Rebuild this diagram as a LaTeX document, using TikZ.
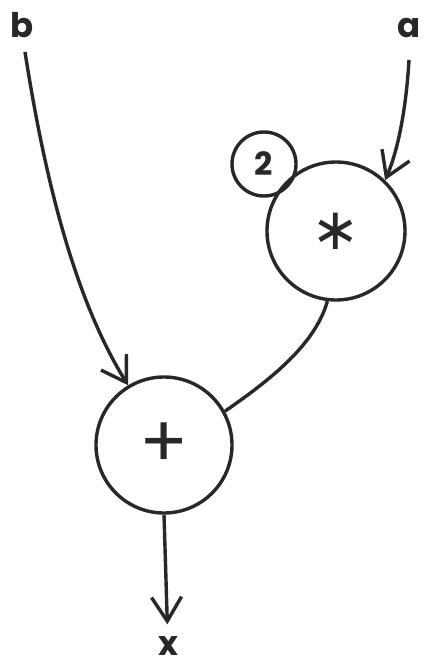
\documentclass[tikz,border=0pt]{standalone}
\usepackage{fontspec}
\setmainfont{Poppins}
\newfontfamily\symfont{DejaVu Sans}
\usetikzlibrary{arrows.meta}
\definecolor{ink}{RGB}{40,40,40}
\tikzset{
  op/.style={circle, draw=ink, line width=3.4pt, inner sep=0pt, text=ink},
  lab/.style={text=ink, inner sep=0pt, font=\fontsize{34}{34}\selectfont\bfseries},
  arr/.style={draw=ink, line width=3.4pt, -{Straight Barb[length=24pt,width=30pt,line width=3.4pt]}},
  wire/.style={draw=ink, line width=3.4pt}
}
\begin{document}
\begin{tikzpicture}[x=1pt,y=-1pt]
\useasboundingbox[fill=white] (0,0) rectangle (426,671);
% operator circles
\node[op, minimum size=136pt, font=\fontsize{72}{72}\selectfont] (plus) at (164,445) {+};
\node[op, minimum size=138pt, font=\symfont\fontsize{58}{58}\selectfont] (star) at (336,231) {∗};
\node[op, minimum size=64pt, font=\fontsize{32}{32}\selectfont\bfseries] (two) at (264,164) {2};
% labels
\node[lab] (b) at (22,25) {b};
\node[lab] (a) at (409,28) {a};
\node[lab] (x) at (168,646) {x};
\coordinate (bs) at (25,52);
\coordinate (as) at (409,60);
% connectors
\draw[arr] (bs) .. controls (45,180) and (75,300) .. (plus.121);
\draw[arr] (as) .. controls (406,110) and (398,150) .. (star.46);
\draw[wire] (star.-97) .. controls (315,345) and (270,380) .. (plus.29);
\draw[arr, shorten >=12pt] (plus.south) -- (x);
\end{tikzpicture}
\end{document}
